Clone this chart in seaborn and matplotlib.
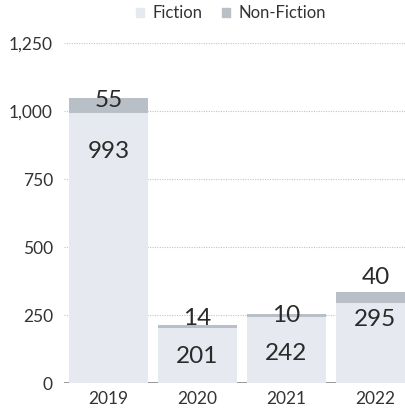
import matplotlib
matplotlib.use("Agg")
import matplotlib.pyplot as plt
import seaborn as sns
import pandas as pd
from matplotlib.patches import Patch

years = ["2019", "2020", "2021", "2022"]
fiction = [993, 201, 242, 295]
non_fiction = [55, 14, 10, 40]

# vertical nudges (points) for the value labels
fiction_dy = [-28, -20, -26, -12]
nonfic_dy = [-2, 4, -1, 10]

sns.set_theme(style="white")
plt.rcParams["font.family"] = ["Lato", "DejaVu Sans"]

df = pd.DataFrame({"year": years, "Fiction": fiction, "Non-Fiction": non_fiction})
df["total"] = df["Fiction"] + df["Non-Fiction"]

fig = plt.figure(figsize=(4.06, 4.15), dpi=100)
ax = fig.add_axes([64 / 406, 32 / 415, 356 / 406, 340 / 415])

c_fic = "#e6eaf0"
c_non = "#b9bfc7"

sns.barplot(data=df, x="year", y="total", color=c_non, width=0.89,
            saturation=1, ax=ax, zorder=2)
sns.barplot(data=df, x="year", y="Fiction", color=c_fic, width=0.89,
            saturation=1, ax=ax, zorder=3)
for p in ax.patches:
    p.set_edgecolor("none")

ax.set_xlim(-0.5, 3.5)
ax.set_ylim(0, 1250)
ax.set_yticks([0, 250, 500, 750, 1000, 1250])
ax.set_yticklabels(["0", "250", "500", "750", "1,000", "1,250"])
ax.set_xlabel("")
ax.set_ylabel("")
ax.tick_params(axis="y", length=0, pad=8, labelsize=12.5, labelcolor="#333333")
ax.tick_params(axis="x", length=0, pad=6, labelsize=12.5, labelcolor="#333333")

for y in [250, 500, 750, 1000, 1250]:
    ax.axhline(y, color="#c4c4c4", lw=0.8, ls=(0, (1, 1.2)), zorder=1)
ax.axhline(0, color="#888888", lw=1.2, zorder=1)

for s in ax.spines.values():
    s.set_visible(False)

for i, (f, n) in enumerate(zip(fiction, non_fiction)):
    ax.annotate(f"{f}", (i, f), xytext=(0, fiction_dy[i]), textcoords="offset points",
                ha="center", va="center", fontsize=17.5, color="#2a2a2a", zorder=5)
    ax.annotate(f"{n}", (i, f + n), xytext=(0, nonfic_dy[i]), textcoords="offset points",
                ha="center", va="center", fontsize=17.5, color="#2a2a2a", zorder=5)

handles = [Patch(color=c_fic, label="Fiction"), Patch(color=c_non, label="Non-Fiction")]
fig.legend(handles=handles, loc="center", bbox_to_anchor=(231 / 406, 1 - 13 / 415),
           ncol=2, frameon=False, fontsize=12, handlelength=0.45, handleheight=0.45,
           handletextpad=0.5, columnspacing=1.2, labelcolor="#333333")

fig.savefig("out.png", dpi=100)
